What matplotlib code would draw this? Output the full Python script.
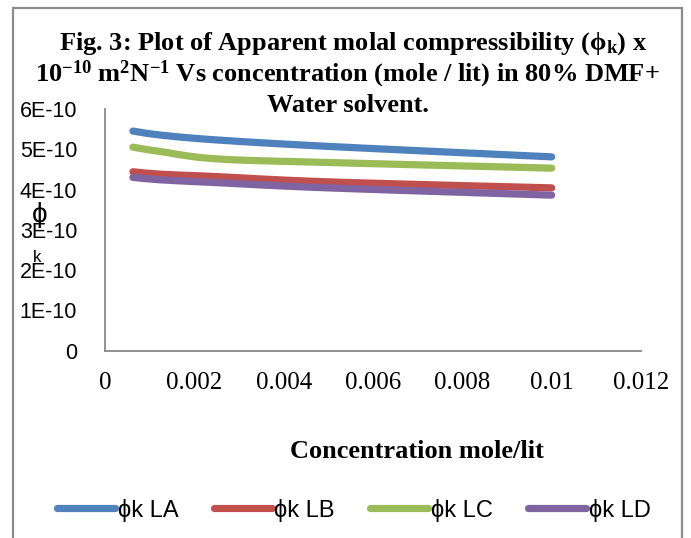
import numpy as np
import matplotlib
matplotlib.use("Agg")
import matplotlib.pyplot as plt
from matplotlib.patches import Rectangle

plt.rcParams["mathtext.fontset"] = "custom"
plt.rcParams["mathtext.rm"] = "Liberation Serif:bold"
plt.rcParams["mathtext.it"] = "Liberation Serif:bold"
plt.rcParams["mathtext.bf"] = "Liberation Serif:bold"

# data (phi_k values in units of 1e-10)
conc = [0.000625, 0.00125, 0.0025, 0.005, 0.01]
phi_LA = [5.45, 5.35, 5.23, 5.07, 4.81]
phi_LB = [4.44, 4.38, 4.32, 4.19, 4.04]
phi_LC = [5.05, 4.94, 4.76, 4.67, 4.53]
phi_LD = [4.30, 4.24, 4.17, 4.04, 3.86]
names = ["ϕk LA", "ϕk LB", "ϕk LC", "ϕk LD"]
colors = ["#4F81BD", "#C0504D", "#9BBB59", "#8064A2"]

xticks = [0, 0.002, 0.004, 0.006, 0.008, 0.01, 0.012]
xlabels = ["0", "0.002", "0.004", "0.006", "0.008", "0.01", "0.012"]
yticks = [0, 1e-10, 2e-10, 3e-10, 4e-10, 5e-10, 6e-10]
ylabels = ["0", "1E-10", "2E-10", "3E-10", "4E-10", "5E-10", "6E-10"]


def smooth(x, y, n=30):
    # excel-like smoothed line: bezier segments through the points
    x = np.asarray(x, float)
    y = np.asarray(y, float)
    px = np.concatenate([[x[0]], x, [x[-1]]])
    py = np.concatenate([[y[0]], y, [y[-1]]])
    xs, ys = [], []
    t = np.linspace(0, 1, n)
    for i in range(1, len(px) - 2):
        p0 = np.array([px[i], py[i]])
        p3 = np.array([px[i + 1], py[i + 1]])
        c1 = p0 + (p3 - np.array([px[i - 1], py[i - 1]])) / 6
        c2 = p3 - (np.array([px[i + 2], py[i + 2]]) - p0) / 6
        pts = ((1 - t) ** 3)[:, None] * p0 + (3 * (1 - t) ** 2 * t)[:, None] * c1 \
            + (3 * (1 - t) * t ** 2)[:, None] * c2 + (t ** 3)[:, None] * p3
        xs.extend(pts[:, 0])
        ys.extend(pts[:, 1])
    return xs, ys


fig = plt.figure(figsize=(6.91, 5.38), dpi=100)
ax = fig.add_axes([105 / 691, 1 - 350.7 / 538, 536 / 691, 241.8 / 538])

for vals, name, c in zip([phi_LA, phi_LB, phi_LC, phi_LD], names, colors):
    sx, sy = smooth(conc, np.array(vals) * 1e-10)
    ax.plot(sx, sy, color=c, lw=5.2, solid_capstyle="round", label=name)

ax.set_xlim(0, 0.012)
ax.set_ylim(0, 6e-10)
ax.set_xticks(xticks)
ax.set_xticklabels(xlabels, family="Liberation Serif", fontsize=18)
ax.set_yticks(yticks)
ax.set_yticklabels(ylabels, family="Liberation Sans", fontsize=15.5)
ax.tick_params(length=0)
ax.tick_params(axis="x", pad=15)
ax.tick_params(axis="y", pad=20)
for s in ["top", "right"]:
    ax.spines[s].set_visible(False)
for s in ["left", "bottom"]:
    ax.spines[s].set_color("#888888")
    ax.spines[s].set_linewidth(1.3)

# title, three centred lines
tkw = dict(ha="center", va="baseline", family="Liberation Serif", weight="bold", fontsize=19)
fig.text(353 / 691, 1 - 50 / 538,
         r"Fig. 3: Plot of Apparent molal compressibility $(\mathrm{\phi_k})$ x", **tkw)
fig.text(347 / 691, 1 - 81 / 538,
         r"10$^{-10}$ m$^2$N$^{-1}$ Vs concentration (mole / lit) in 80% DMF+", **tkw)
fig.text(348 / 691, 1 - 112 / 538, "Water solvent.", **tkw)

# y label is two separate bits of text
fig.text(40 / 691, 1 - 215 / 538, "ϕ", ha="center", va="center",
         family=["Liberation Sans", "DejaVu Sans"], fontsize=20)
fig.text(37 / 691, 1 - 258 / 538, "k", ha="center", va="center",
         family="Liberation Sans", fontsize=12)

fig.text(417 / 691, 1 - 452 / 538, "Concentration mole/lit", ha="center", va="center",
         family="Liberation Serif", weight="bold", fontsize=19)

leg = fig.legend(loc="center", bbox_to_anchor=(354 / 691, 1 - 510 / 538), ncol=4,
                 frameon=False, handlelength=2.45, handletextpad=0.12, columnspacing=1.5,
                 prop={"family": ["Liberation Sans", "DejaVu Sans"], "size": 17})

# chart frame
fig.patches.append(Rectangle((13 / 691, -0.05), 669 / 691, 1.05 - 8 / 538,
                             transform=fig.transFigure, fill=False,
                             edgecolor="#8c8c8c", lw=1.6))

fig.savefig("out.png", dpi=100)
